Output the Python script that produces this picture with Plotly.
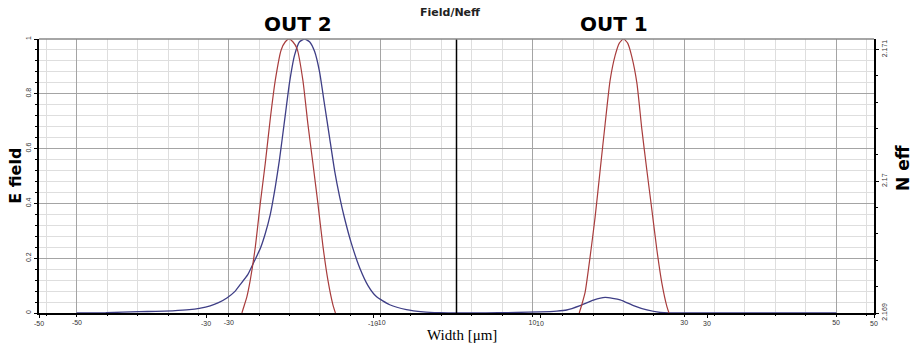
import plotly.graph_objects as go

# ---------------- data ----------------
# OUT 2 : red mode profile (left panel)
red_out2_x = [-25.7, -25.5, -25.1, -24.7, -24.1, -23.5, -22.9, -22.3, -21.7, -21.0, -20.5, -20.05,
              -19.6, -19.1, -18.4, -17.8, -17.2, -16.6, -16.0, -15.4, -14.8, -14.5]
red_out2_y = [0.0, 0.02, 0.06, 0.12, 0.24, 0.40, 0.547, 0.71, 0.85, 0.96, 0.99, 1.0,
              0.99, 0.965, 0.85, 0.69, 0.547, 0.40, 0.245, 0.12, 0.03, 0.0]

# OUT 1 : red mode profile (right panel)
red_out1_x = [14.7, 15.0, 15.4, 16.0, 16.6, 17.2, 17.8, 18.4, 19.0, 19.5, 20.0, 20.5,
              21.0, 21.6, 22.2, 22.8, 23.4, 24.0, 24.6, 25.2, 25.45]
red_out1_y = [0.0, 0.03, 0.075, 0.205, 0.35, 0.52, 0.69, 0.85, 0.94, 0.985, 1.0, 0.985,
              0.935, 0.84, 0.67, 0.52, 0.376, 0.23, 0.108, 0.023, 0.0]

# blue field profile across the whole width
blue_x = [-45.5, -42.0, -40.0, -38.0, -36.0, -34.0, -32.0, -30.8, -29.5, -28.5, -27.5, -26.5,
          -26.0, -25.0, -24.2, -23.5, -22.9, -22.3, -21.7, -21.2, -20.6, -20.0, -19.4, -18.8,
          -18.2, -17.6, -17.0, -16.4, -15.8, -15.2, -14.6, -14.0, -13.4, -12.6, -11.6, -10.6,
          -9.6, -8.0, -6.0, -4.0, -2.0, 0.0, 2.0, 5.0, 7.2, 10.0, 12.0, 13.2, 14.8, 16.4, 17.8,
          19.6, 21.2, 22.8, 24.4, 25.5, 45.5]
blue_y = [0.0, 0.001, 0.003, 0.005, 0.006, 0.008, 0.012, 0.017, 0.026, 0.038, 0.055, 0.08,
          0.10, 0.14, 0.19, 0.235, 0.29, 0.36, 0.46, 0.56, 0.70, 0.84, 0.94, 0.99,
          1.0, 0.99, 0.955, 0.88, 0.76, 0.64, 0.52, 0.425, 0.345, 0.255, 0.165, 0.10,
          0.06, 0.03, 0.012, 0.004, 0.001, 0.0, 0.0, 0.001, 0.002, 0.004, 0.007, 0.011, 0.027, 0.047, 0.057,
          0.048, 0.027, 0.011, 0.002, 0.0, 0.0]

# axis ticks
x_tickvals = [-50, -30, -10, 10, 30, 50]
x_ticktext = ["-50", "-30", "-10", "10", "30", "50"]
neff_tickvals = [2.169, 2.17, 2.171]
neff_ticktext = ["2.169", "2.17", "2.171"]

# ---------------- figure ----------------
RED = "#a83c3c"
BLUE = "#3e3e86"
MAJOR = "#a4a4a4"
MINOR = "#dedede"

fig = go.Figure()
# empty trace so the secondary (overlay) axes are drawn
fig.add_trace(go.Scatter(x=[], y=[], xaxis="x2", yaxis="y2", mode="lines",
                         hoverinfo="skip", showlegend=False))
fig.add_trace(go.Scatter(x=blue_x, y=blue_y, mode="lines",
                         line=dict(color=BLUE, width=1.3, shape="spline", smoothing=0.5),
                         hoverinfo="skip", showlegend=False))
fig.add_trace(go.Scatter(x=red_out2_x, y=red_out2_y, mode="lines",
                         line=dict(color=RED, width=1.2, shape="spline", smoothing=0.6),
                         hoverinfo="skip", showlegend=False))
fig.add_trace(go.Scatter(x=red_out1_x, y=red_out1_y, mode="lines",
                         line=dict(color=RED, width=1.2, shape="spline", smoothing=0.6),
                         hoverinfo="skip", showlegend=False))

tickfont = dict(family="Liberation Sans, Arial, sans-serif", size=7, color="#333333")

fig.update_layout(
    width=916, height=354,
    margin=dict(l=39, r=42, t=39, b=41),
    paper_bgcolor="white", plot_bgcolor="white",
    showlegend=False,
    xaxis=dict(range=[-50, 50], tickmode="array", tickvals=x_tickvals, ticktext=x_ticktext,
               showgrid=False, zeroline=False, showline=True, linecolor="black", linewidth=1.5,
               ticks="outside", ticklen=3, tickcolor="black", tickfont=tickfont),
    xaxis2=dict(range=[-55, 55], overlaying="x", side="bottom", anchor="y",
                tickmode="array", tickvals=x_tickvals, ticktext=x_ticktext,
                showgrid=True, gridcolor=MAJOR, gridwidth=1, zeroline=False,
                ticks="outside", ticklen=3, tickcolor="black", tickfont=tickfont,
                minor=dict(tickmode="linear", tick0=-50, dtick=4, showgrid=True, gridcolor=MINOR,
                           ticks="outside", ticklen=2, tickcolor="black")),
    yaxis=dict(range=[0, 1], tickmode="linear", tick0=0, dtick=0.2, tickangle=-90,
               showgrid=True, gridcolor=MAJOR, gridwidth=1, zeroline=False,
               showline=True, linecolor="black", linewidth=1.5,
               ticks="outside", ticklen=3, tickcolor="black", tickfont=tickfont,
               minor=dict(dtick=0.04, showgrid=True, gridcolor=MINOR,
                          ticks="outside", ticklen=2, tickcolor="black")),
    yaxis2=dict(range=[2.169, 2.17108], overlaying="y", side="right", anchor="x",
                tickmode="array", tickvals=neff_tickvals, ticktext=neff_ticktext, tickangle=-90,
                showgrid=False, zeroline=False, showline=True, linecolor="black", linewidth=1.5,
                ticks="outside", ticklen=3, tickcolor="black", tickfont=tickfont,
                minor=dict(tickmode="linear", tick0=2.169, dtick=0.0002,
                           ticks="outside", ticklen=2, tickcolor="black")),
)

# panel separator and top frame
fig.add_shape(type="line", xref="x", yref="paper", x0=0, x1=0, y0=0, y1=1,
              line=dict(color="black", width=1.5))
fig.add_shape(type="line", xref="paper", yref="paper", x0=0, x1=1, y0=1, y1=1,
              line=dict(color="#888888", width=1.5))

bold = "DejaVu Sans, Arial, sans-serif"
def note(text, x, y, size, family=bold, angle=0, color="black"):
    fig.add_annotation(text=text, xref="paper", yref="paper", x=x, y=y, xanchor="center",
                       yanchor="middle", textangle=angle, showarrow=False,
                       font=dict(family=family, size=size, color=color))

note("<b>Field/Neff</b>", 0.492, 1.096, 11, color="#222222")
note("<b>OUT 2</b>", 0.310, 1.055, 20)
note("<b>OUT 1</b>", 0.689, 1.055, 20)
note("<b>E field</b>", -0.029, 0.5, 16, angle=-90)
note("<b>N eff</b>", 1.035, 0.53, 17, angle=-90)
note("Width [μm]", 0.507, -0.08, 15, family="Liberation Serif, Times New Roman, serif")

fig.write_html("out.html", config={"displayModeBar": False},
               post_script="document.body.style.margin='0';document.body.style.overflow='hidden';")
